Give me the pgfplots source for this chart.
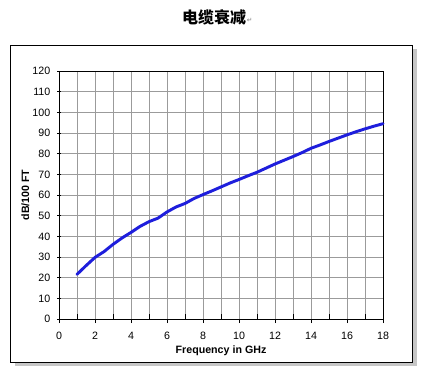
\documentclass[border=0pt]{standalone}
\usepackage{fontspec}
\setmainfont{Liberation Sans}
\newfontfamily\cjk{Noto Sans CJK SC}
\newfontfamily\dejavu{DejaVu Sans}
\usepackage{pgfplots}
\pgfplotsset{compat=1.18}
\definecolor{curve}{RGB}{30,30,220}
\definecolor{gridc}{RGB}{155,155,155}
\begin{document}
\begin{tikzpicture}
% bounding box (424x374 px, 1px = 0.75pt)
\path (0,0) rectangle (318pt,-280.5pt);
% shadow and frame
\fill[gray!45] (11pt,-37pt) rectangle (312.5pt,-274.5pt);
\draw[black, line width=0.75pt, fill=white] (7.7pt,-34pt) rectangle (309.2pt,-271.5pt);
% title
\node[font=\cjk\bfseries\fontsize{12pt}{14pt}\selectfont, anchor=center] at (160.5pt,-12.75pt) {电缆衰减};
\node[font=\dejavu\fontsize{5pt}{6pt}\selectfont, text=gray, anchor=west, inner sep=0pt] at (185pt,-15pt) {↵};
\begin{axis}[
  at={(44.25pt,-239.25pt)}, anchor=south west,
  scale only axis, width=243pt, height=186pt,
  xmin=0, xmax=18, ymin=0, ymax=120,
  xtick={0,2,...,18}, minor xtick={1,3,...,17},
  ytick={0,10,...,120},
  tick pos=left,
  grid=both,
  major grid style={gridc, line width=0.75pt},
  minor grid style={gridc, line width=0.75pt},
  axis line style={black, line width=0.75pt},
  tick align=outside,
  major tick length=3pt, minor tick length=3.75pt,
  tick style={black, line width=0.75pt},
  minor x tick style={yshift=3.75pt},
  y tick style={xshift=1.5pt},
  ticklabel style={font=\fontsize{8pt}{9.6pt}\selectfont},
  xticklabel style={yshift=-3.5pt},
  /pgf/number format/assume math mode=true,
  xlabel={\textbf{Frequency in GHz}},
  ylabel={\textbf{dB/100 FT}},
  label style={font=\fontsize{8pt}{9.6pt}\selectfont},
  xlabel style={yshift=2.2pt},
  ylabel style={yshift=-4.5pt},
  clip=false,
]
\addplot[curve, line width=2.2pt, line join=round, line cap=round] coordinates {
(1,21.6) (1.5,25.8) (2,29.8) (2.5,32.6) (3,36.1) (3.5,39.2) (4,41.9) (4.5,44.8)
(5,47.1) (5.5,48.8) (6,51.8) (6.5,54.2) (7,55.9) (7.5,58.3) (8,60.2) (8.5,62.0)
(9,63.9) (9.5,65.8) (10,67.5) (10.5,69.3) (11,71.0) (11.5,73.0) (12,75.0) (12.5,76.8)
(13,78.6) (13.5,80.5) (14,82.6) (14.5,84.2) (15,85.9) (15.5,87.5) (16,89.1)
(16.5,90.6) (17,92.0) (17.5,93.3) (18,94.5)
};
\end{axis}
\end{tikzpicture}
\end{document}
